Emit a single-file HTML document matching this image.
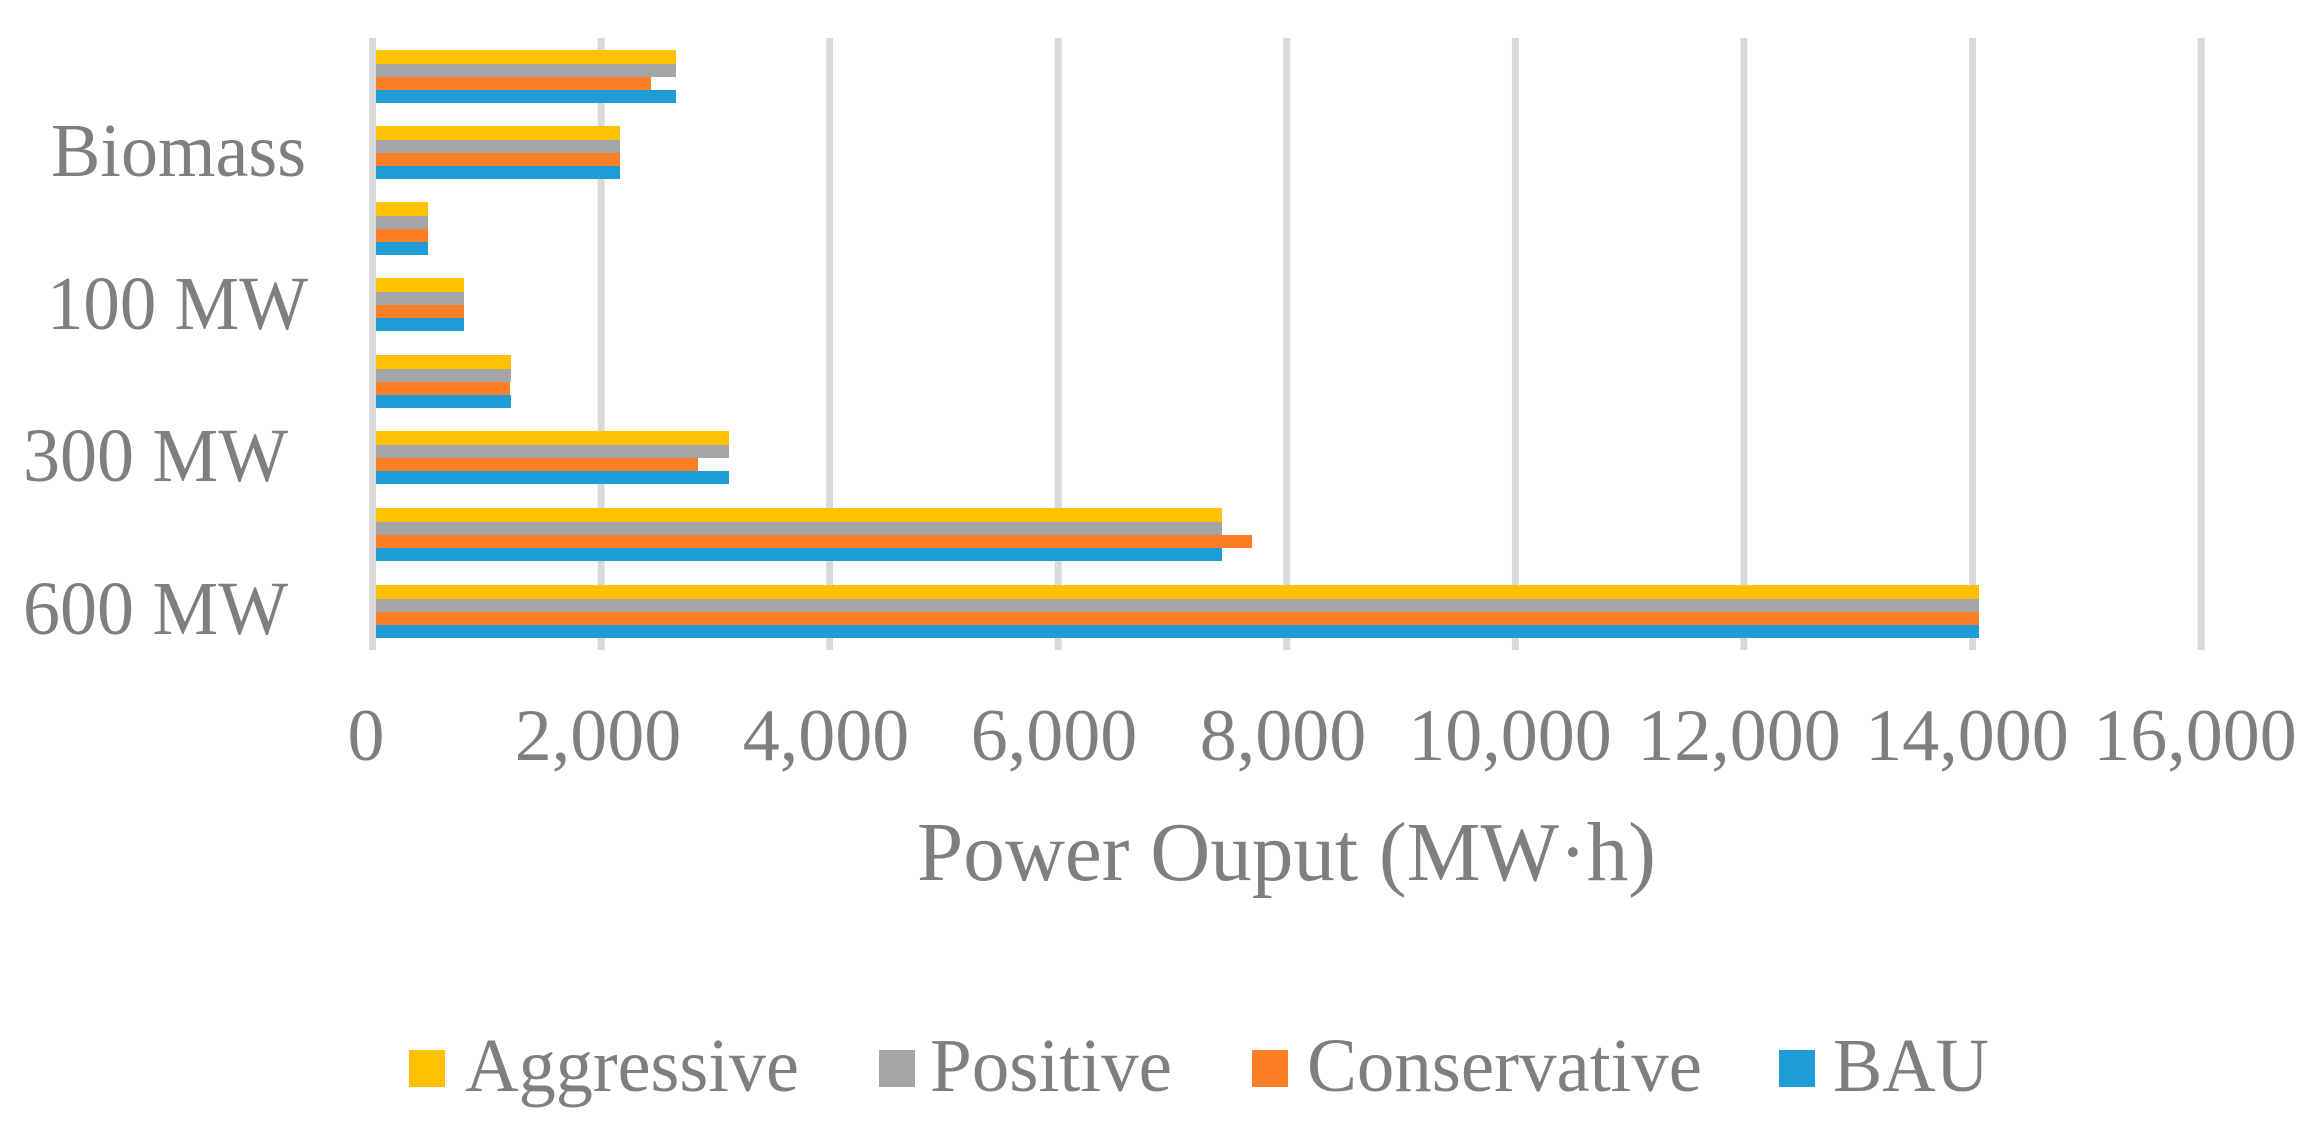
<!DOCTYPE html>
<html><head><meta charset="utf-8"><style>
html,body{margin:0;padding:0;background:#fff}
svg{display:block}
text{font-family:"Liberation Serif",serif;fill:#7f7f7f}
</style></head><body>
<svg width="2317" height="1131" viewBox="0 0 2317 1131" xmlns="http://www.w3.org/2000/svg">
<g fill="#d9d9d9">
<rect x="369" y="38" width="7" height="612"/>
<rect x="597.6" y="38" width="7" height="612"/>
<rect x="826.1" y="38" width="7" height="612"/>
<rect x="1054.7" y="38" width="7" height="612"/>
<rect x="1283.3" y="38" width="7" height="612"/>
<rect x="1511.9" y="38" width="7" height="612"/>
<rect x="1740.4" y="38" width="7" height="612"/>
<rect x="1969" y="38" width="7" height="612"/>
<rect x="2197.6" y="38" width="7" height="612"/>
</g>
<g id="bars">
<rect x="376" y="50" width="300" height="14" fill="#FFC000"/>
<rect x="376" y="64" width="300" height="13" fill="#A5A5A5"/>
<rect x="376" y="77" width="275" height="13" fill="#FF7F27"/>
<rect x="376" y="90" width="300" height="13" fill="#1E9CD8"/>
<rect x="376" y="126" width="244" height="14" fill="#FFC000"/>
<rect x="376" y="140" width="244" height="13" fill="#A5A5A5"/>
<rect x="376" y="153" width="244" height="13" fill="#FF7F27"/>
<rect x="376" y="166" width="244" height="13" fill="#1E9CD8"/>
<rect x="376" y="202" width="52" height="14" fill="#FFC000"/>
<rect x="376" y="216" width="52" height="13" fill="#A5A5A5"/>
<rect x="376" y="229" width="52" height="13" fill="#FF7F27"/>
<rect x="376" y="242" width="52" height="13" fill="#1E9CD8"/>
<rect x="376" y="278" width="88" height="14" fill="#FFC000"/>
<rect x="376" y="292" width="88" height="13" fill="#A5A5A5"/>
<rect x="376" y="305" width="88" height="13" fill="#FF7F27"/>
<rect x="376" y="318" width="88" height="13" fill="#1E9CD8"/>
<rect x="376" y="355" width="135" height="14" fill="#FFC000"/>
<rect x="376" y="369" width="135" height="13" fill="#A5A5A5"/>
<rect x="376" y="382" width="134" height="13" fill="#FF7F27"/>
<rect x="376" y="395" width="135" height="13" fill="#1E9CD8"/>
<rect x="376" y="431" width="353" height="14" fill="#FFC000"/>
<rect x="376" y="445" width="353" height="13" fill="#A5A5A5"/>
<rect x="376" y="458" width="322" height="13" fill="#FF7F27"/>
<rect x="376" y="471" width="353" height="13" fill="#1E9CD8"/>
<rect x="376" y="508" width="846" height="14" fill="#FFC000"/>
<rect x="376" y="522" width="846" height="13" fill="#A5A5A5"/>
<rect x="376" y="535" width="876" height="13" fill="#FF7F27"/>
<rect x="376" y="548" width="846" height="13" fill="#1E9CD8"/>
<rect x="376" y="585" width="1603" height="14" fill="#FFC000"/>
<rect x="376" y="599" width="1603" height="13" fill="#A5A5A5"/>
<rect x="376" y="612" width="1603" height="13" fill="#FF7F27"/>
<rect x="376" y="625" width="1603" height="13" fill="#1E9CD8"/>
</g>
<g font-size="76">
<text x="51" y="176" textLength="255" lengthAdjust="spacingAndGlyphs">Biomass</text>
<text x="47" y="329" textLength="261" lengthAdjust="spacingAndGlyphs">100 MW</text>
<text x="23" y="481" textLength="265" lengthAdjust="spacingAndGlyphs">300 MW</text>
<text x="23" y="634" textLength="265" lengthAdjust="spacingAndGlyphs">600 MW</text>
</g>
<g font-size="74" text-anchor="middle">
<text x="366" y="760">0</text>
<text x="598" y="760">2,000</text>
<text x="826" y="760">4,000</text>
<text x="1054" y="760">6,000</text>
<text x="1283" y="760">8,000</text>
<text x="1510" y="760">10,000</text>
<text x="1739" y="760">12,000</text>
<text x="1967" y="760">14,000</text>
<text x="2195" y="760">16,000</text>
</g>
<text x="917" y="880" font-size="84" textLength="739" lengthAdjust="spacingAndGlyphs">Power Ouput (MW·h)</text>
<rect x="409" y="1050" width="36" height="37" fill="#FFC000"/>
<rect x="879" y="1050" width="36" height="37" fill="#A5A5A5"/>
<rect x="1252" y="1050" width="36" height="37" fill="#FF7F27"/>
<rect x="1779" y="1050" width="36" height="37" fill="#1E9CD8"/>
<g font-size="76">
<text x="465" y="1091" textLength="334" lengthAdjust="spacingAndGlyphs">Aggressive</text>
<text x="930" y="1091" textLength="242" lengthAdjust="spacingAndGlyphs">Positive</text>
<text x="1307" y="1091" textLength="395" lengthAdjust="spacingAndGlyphs">Conservative</text>
<text x="1833" y="1091" textLength="156" lengthAdjust="spacingAndGlyphs">BAU</text>
</g>
</svg>
</body></html>
